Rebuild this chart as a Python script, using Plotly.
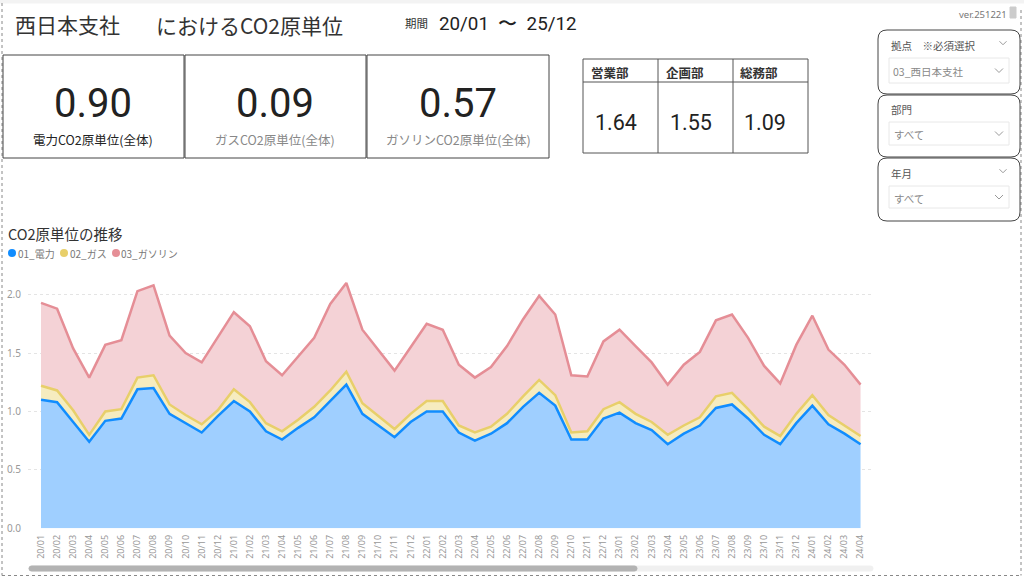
import plotly.graph_objects as go

W = 1024
H = 579
JP = "Noto Sans CJK JP"
NUM = "Roboto"

# data
months = [
    "20/01", "20/02", "20/03", "20/04", "20/05", "20/06", "20/07", "20/08", "20/09", "20/10", "20/11", "20/12",
    "21/01", "21/02", "21/03", "21/04", "21/05", "21/06", "21/07", "21/08", "21/09", "21/10", "21/11", "21/12",
    "22/01", "22/02", "22/03", "22/04", "22/05", "22/06", "22/07", "22/08", "22/09", "22/10", "22/11", "22/12",
    "23/01", "23/02", "23/03", "23/04", "23/05", "23/06", "23/07", "23/08", "23/09", "23/10", "23/11", "23/12",
    "24/01", "24/02", "24/03", "24/04",
]
denryoku = [
    1.10, 1.08, 0.91, 0.74, 0.92, 0.94, 1.19, 1.20, 0.98, 0.90, 0.82, 0.96,
    1.09, 1.00, 0.83, 0.76, 0.86, 0.95, 1.09, 1.23, 0.98, 0.88, 0.78, 0.91,
    1.00, 1.00, 0.82, 0.75, 0.81, 0.90, 1.04, 1.16, 1.05, 0.76, 0.76, 0.94,
    0.99, 0.90, 0.84, 0.72, 0.81, 0.88, 1.03, 1.06, 0.94, 0.80, 0.72, 0.90,
    1.05, 0.89, 0.81, 0.72,
]
gas = [
    0.12, 0.10, 0.10, 0.06, 0.08, 0.08, 0.10, 0.11, 0.08, 0.07, 0.07, 0.05,
    0.10, 0.08, 0.07, 0.07, 0.07, 0.09, 0.09, 0.11, 0.09, 0.08, 0.07, 0.07,
    0.09, 0.09, 0.06, 0.07, 0.06, 0.08, 0.09, 0.11, 0.09, 0.06, 0.07, 0.08,
    0.09, 0.08, 0.07, 0.08, 0.07, 0.07, 0.10, 0.10, 0.08, 0.07, 0.07, 0.08,
    0.09, 0.08, 0.07, 0.07,
]
gasoline = [
    0.71, 0.70, 0.53, 0.49, 0.57, 0.59, 0.74, 0.77, 0.59, 0.53, 0.53, 0.62,
    0.66, 0.65, 0.53, 0.48, 0.54, 0.59, 0.74, 0.76, 0.63, 0.56, 0.50, 0.57,
    0.66, 0.61, 0.52, 0.47, 0.51, 0.58, 0.66, 0.72, 0.69, 0.49, 0.47, 0.58,
    0.62, 0.58, 0.51, 0.43, 0.52, 0.56, 0.65, 0.67, 0.61, 0.52, 0.45, 0.59,
    0.68, 0.56, 0.52, 0.44,
]
series_names = ["01_電力", "02_ガス", "03_ガソリン"]
y_ticks = [0.0, 0.5, 1.0, 1.5, 2.0]

kpi_values = ["0.90", "0.09", "0.57"]
kpi_labels = ["電力CO2原単位(全体)", "ガスCO2原単位(全体)", "ガソリンCO2原単位(全体)"]
dept_names = ["営業部", "企画部", "総務部"]
dept_values = ["1.64", "1.55", "1.09"]


def px(x):
    return x / W


def py(y):
    return 1 - y / H


def box(x0, y0, x1, y1, color="#444", width=1, fill=None, dash=None):
    line = dict(color=color, width=width)
    if dash:
        line["dash"] = dash
    return dict(type="rect", xref="paper", yref="paper", x0=px(x0), x1=px(x1), y0=py(y0), y1=py(y1),
                line=line, fillcolor=fill, layer="above")


def rounded(x0, y0, x1, y1, r=9, color="#444", fill=None):
    p = (f"M {px(x0 + r)} {py(y0)} L {px(x1 - r)} {py(y0)} Q {px(x1)} {py(y0)} {px(x1)} {py(y0 + r)} "
         f"L {px(x1)} {py(y1 - r)} Q {px(x1)} {py(y1)} {px(x1 - r)} {py(y1)} "
         f"L {px(x0 + r)} {py(y1)} Q {px(x0)} {py(y1)} {px(x0)} {py(y1 - r)} "
         f"L {px(x0)} {py(y0 + r)} Q {px(x0)} {py(y0)} {px(x0 + r)} {py(y0)} Z")
    return dict(type="path", xref="paper", yref="paper", path=p, line=dict(color=color, width=1),
                fillcolor=fill, layer="above")


def chevron(x, y, size=4):
    p = f"M {px(x - size)} {py(y - size / 2)} L {px(x)} {py(y + size / 2)} L {px(x + size)} {py(y - size / 2)}"
    return dict(type="path", xref="paper", yref="paper", path=p, line=dict(color="#999", width=1), layer="above")


def label(x, y, text, size=12, color="#333", font=JP, anchor="left"):
    # annotations carry 2px of padding on their box
    shift = {"left": -2, "right": 2, "center": 0}[anchor]
    return dict(xref="paper", yref="paper", x=px(x + shift), y=py(y), text=text, showarrow=False, xanchor=anchor,
                yanchor="middle", font=dict(family=font, size=size, color=color))


fig = go.Figure()
fills = ["#9fcfff", "#f6ecbf", "#f4d2d6"]
lines = ["#118dff", "#e8cf6a", "#e58e96"]
for name, vals, fc, lc in zip(series_names, [denryoku, gas, gasoline], fills, lines):
    fig.add_trace(go.Scatter(x=months, y=vals, name=name, mode="lines", stackgroup="one",
                             fillcolor=fc, line=dict(color=lc, width=2.5)))

shapes = []
annotations = []

# frame
shapes.append(box(0, 0, 1024, 3, color="#f3f3f3", fill="#f3f3f3"))
shapes.append(dict(type="line", xref="paper", yref="paper", x0=px(2), x1=px(2), y0=py(3), y1=py(575.5),
                   line=dict(color="#888", width=1, dash="dot")))
shapes.append(dict(type="line", xref="paper", yref="paper", x0=px(2), x1=px(1021), y0=py(575.5), y1=py(575.5),
                   line=dict(color="#888", width=1, dash="dot")))
shapes.append(dict(type="line", xref="paper", yref="paper", x0=px(1021), x1=px(1021), y0=py(10), y1=py(575.5),
                   line=dict(color="#888", width=1, dash="dot")))
shapes.append(box(1010, 7, 1016, 18, color="#ccc", fill="#ccc"))

# header
annotations.append(label(15, 24, "西日本支社", size=21, color="#333"))
annotations.append(label(156, 25, "におけるCO2原単位", size=21, color="#333"))
annotations.append(label(405, 23, "期間", size=11.5, color="#333"))
annotations.append(label(439, 24, "20/01  〜  25/12", size=18.8, color="#222", font=NUM))
annotations.append(label(1007, 15, "ver.251221", size=9.5, color="#777", font="Noto Sans", anchor="right"))

# KPI cards
for x0, x1, val, txt, c, cx in zip([3, 185, 367], [184, 366, 549], kpi_values, kpi_labels,
                                   ["#222", "#888", "#888"], [93, 275, 458]):
    shapes.append(box(x0, 55, x1, 158))
    annotations.append(label(cx, 103, val, size=40, color="#222", font=NUM, anchor="center"))
    annotations.append(label(cx, 139, txt, size=12.5, color=c, anchor="center"))

# department table
shapes.append(box(583, 59, 808, 153, color="#555"))
shapes.append(dict(type="line", xref="paper", yref="paper", x0=px(583), x1=px(808), y0=py(82), y1=py(82),
                   line=dict(color="#555", width=1)))
for x in [658, 733]:
    shapes.append(dict(type="line", xref="paper", yref="paper", x0=px(x), x1=px(x), y0=py(59), y1=py(153),
                       line=dict(color="#555", width=1)))
for x, hd, val in zip([591, 666, 740], dept_names, dept_values):
    annotations.append(label(x, 72, f"<b>{hd}</b>", size=12.5, color="#333"))
    annotations.append(label(x + 25, 122, val, size=21.5, color="#222", font=NUM, anchor="center"))

# slicers
for y0, y1 in [(30, 94), (95, 157), (158, 221)]:
    shapes.append(rounded(878, y0, 1020, y1))
for y0, y1 in [(58, 83), (122, 145), (186, 208)]:
    shapes.append(box(889, y0, 1009, y1, color="#e8e8e8"))
    shapes.append(chevron(999, (y0 + y1) / 2))
shapes.append(chevron(1003, 43, size=3.5))
shapes.append(chevron(1003, 171, size=3.5))
annotations.append(label(891, 45, "拠点　※必須選択", size=10.5, color="#555"))
annotations.append(label(893, 71, "03_西日本支社", size=10.5, color="#888"))
annotations.append(label(891, 110, "部門", size=10.5, color="#555"))
annotations.append(label(894, 135, "すべて", size=10.5, color="#888"))
annotations.append(label(891, 173, "年月", size=10.5, color="#555"))
annotations.append(label(894, 198, "すべて", size=10.5, color="#888"))

# chart title and legend
annotations.append(label(8, 233, "CO2原単位の推移", size=14.5, color="#333"))
for cx, tx, name, c in zip([12, 64, 116], [18, 70, 121], series_names, lines):
    shapes.append(dict(type="circle", xref="paper", yref="paper", x0=px(cx - 4), x1=px(cx + 4),
                       y0=py(253 + 4), y1=py(253 - 4), fillcolor=c, line=dict(width=0), layer="above"))
    annotations.append(label(tx, 253, name, size=10, color="#777"))

# scrollbar
shapes.append(rounded(29, 566, 873, 571, r=2.5, color="#f0f0f0", fill="#f0f0f0"))
shapes.append(rounded(29, 566, 637, 571, r=2.5, color="#b3b3b3", fill="#b3b3b3"))

fig.update_layout(
    width=W,
    height=H,
    margin=dict(l=0, r=0, t=0, b=0),
    autosize=False,
    showlegend=False,
    paper_bgcolor="white",
    plot_bgcolor="white",
    shapes=shapes,
    annotations=annotations,
    xaxis=dict(
        domain=[px(28), px(871)],
        type="category",
        categoryorder="array",
        categoryarray=months,
        range=[-0.81, 51.65],
        tickmode="array",
        tickvals=months,
        ticktext=months,
        tickangle=-90,
        automargin=False,
        showgrid=False,
        zeroline=False,
        showline=False,
        ticks="outside",
        ticklen=2,
        tickcolor="white",
        tickfont=dict(family="Noto Sans", size=9, color="#999"),
    ),
    yaxis=dict(
        domain=[py(528.3), py(271.3)],
        range=[0, 2.2],
        tickmode="array",
        tickvals=y_ticks,
        tickformat=".1f",
        automargin=False,
        showgrid=True,
        griddash="dot",
        gridcolor="#e4e4e4",
        gridwidth=1,
        zeroline=False,
        showline=False,
        ticks="outside",
        ticklen=4,
        tickcolor="white",
        tickfont=dict(family="Noto Sans", size=10, color="#999"),
    ),
)

fig.write_html("out.html", config={"displayModeBar": False},
               post_script="document.body.style.margin='0';document.body.style.overflow='hidden';")
